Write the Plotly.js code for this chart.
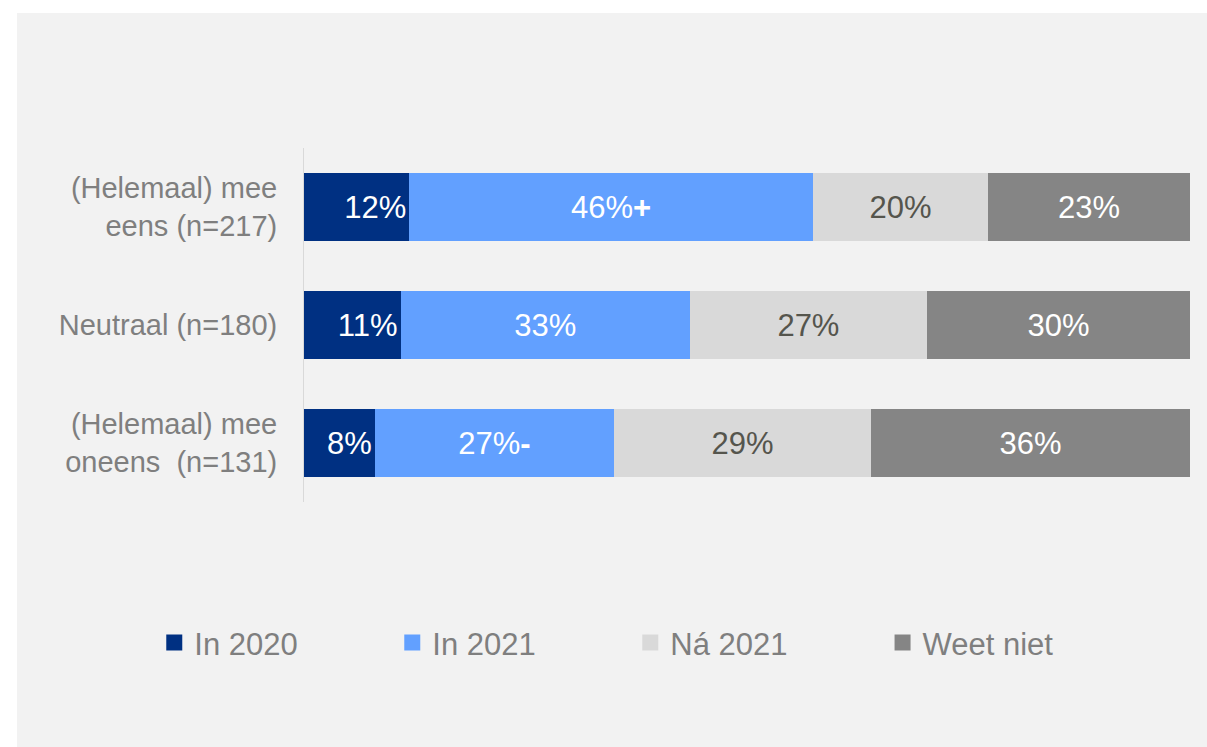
<!DOCTYPE html>
<html>
<head>
<meta charset="utf-8">
<script src="https://cdn.plot.ly/plotly-3.0.1.min.js"></script>
<style>
  html, body { margin: 0; padding: 0; background: #ffffff; width: 1207px; height: 747px; overflow: hidden; }
  #chart { position: absolute; left: 17px; top: 13px; width: 1190px; height: 734px; }
</style>
</head>
<body>
<div id="chart"></div>
<script>
const categories = [
  "(Helemaal) mee<br>eens (n=217)",
  "Neutraal (n=180)",
  "(Helemaal) mee<br>oneens  (n=131)"
];
const seriesNames = ["In 2020", "In 2021", "Ná 2021", "Weet niet"];
const in2020 = [12, 11, 8];
const in2021 = [46, 33, 27];
const na2021 = [20, 27, 29];
const weetNiet = [23, 30, 36];
const in2021Marks = ["<b>+</b>", "", "<b>-</b>"];

const colors = ["#003082", "#62a0ff", "#d9d9d9", "#858585"];
const textColors = ["#ffffff", "#ffffff", "#55554d", "#ffffff"];
const FONT = "Liberation Sans, Arial, sans-serif";

function pct(arr, marks) {
  return arr.map((v, i) => v + "%" + (marks ? marks[i] : ""));
}

const seriesValues = [in2020, in2021, na2021, weetNiet];
const seriesText = [pct(in2020), pct(in2021, in2021Marks), pct(na2021), pct(weetNiet)];

const barTraces = seriesValues.map((vals, k) => ({
  type: "bar",
  orientation: "h",
  name: seriesNames[k],
  y: categories,
  x: vals,
  text: seriesText[k],
  texttemplate: "%{text}",
  textposition: "inside",
  insidetextanchor: k === 0 ? "end" : "middle",
  constraintext: "none",
  textfont: { family: FONT, size: 31, color: textColors[k] },
  marker: { color: colors[k], line: { width: 0 } },
  showlegend: false,
  hoverinfo: "skip"
}));

// legend-only entries with larger square swatches
const legendTraces = seriesNames.map((nm, k) => ({
  type: "scatter",
  mode: "markers",
  name: nm,
  x: [null],
  y: [null],
  marker: { symbol: "square", size: 16, color: colors[k], line: { width: 0 } },
  showlegend: true,
  legend: k === 3 ? "legend2" : "legend",
  hoverinfo: "skip"
}));

const legendCommon = {
  orientation: "h",
  xanchor: "left",
  y: -0.398,
  yanchor: "middle",
  entrywidth: 193,
  entrywidthmode: "pixels",
  font: { family: FONT, size: 31, color: "#7f7f7f" },
  bgcolor: "rgba(0,0,0,0)",
  traceorder: "normal"
};

const layout = {
  width: 1190,
  height: 734,
  paper_bgcolor: "#f2f2f2",
  plot_bgcolor: "#f2f2f2",
  margin: { l: 287, r: 17, t: 135, b: 245 },
  barmode: "stack",
  barnorm: "percent",
  bargap: 0.43,
  font: { family: FONT, color: "#7f7f7f" },
  xaxis: {
    range: [0, 100],
    visible: false,
    fixedrange: true
  },
  yaxis: {
    autorange: "reversed",
    showline: true,
    linecolor: "#d9d9d9",
    linewidth: 1,
    showgrid: false,
    zeroline: false,
    ticks: "",
    ticklabelstandoff: 20,
    tickfont: { family: FONT, size: 29, color: "#7f7f7f" },
    fixedrange: true
  },
  showlegend: true,
  legend: Object.assign({}, legendCommon, { x: -0.169 }),
  legend2: Object.assign({}, legendCommon, { x: 0.653 })
};

Plotly.newPlot("chart", barTraces.concat(legendTraces), layout, { displayModeBar: false, staticPlot: true });
</script>
</body>
</html>
